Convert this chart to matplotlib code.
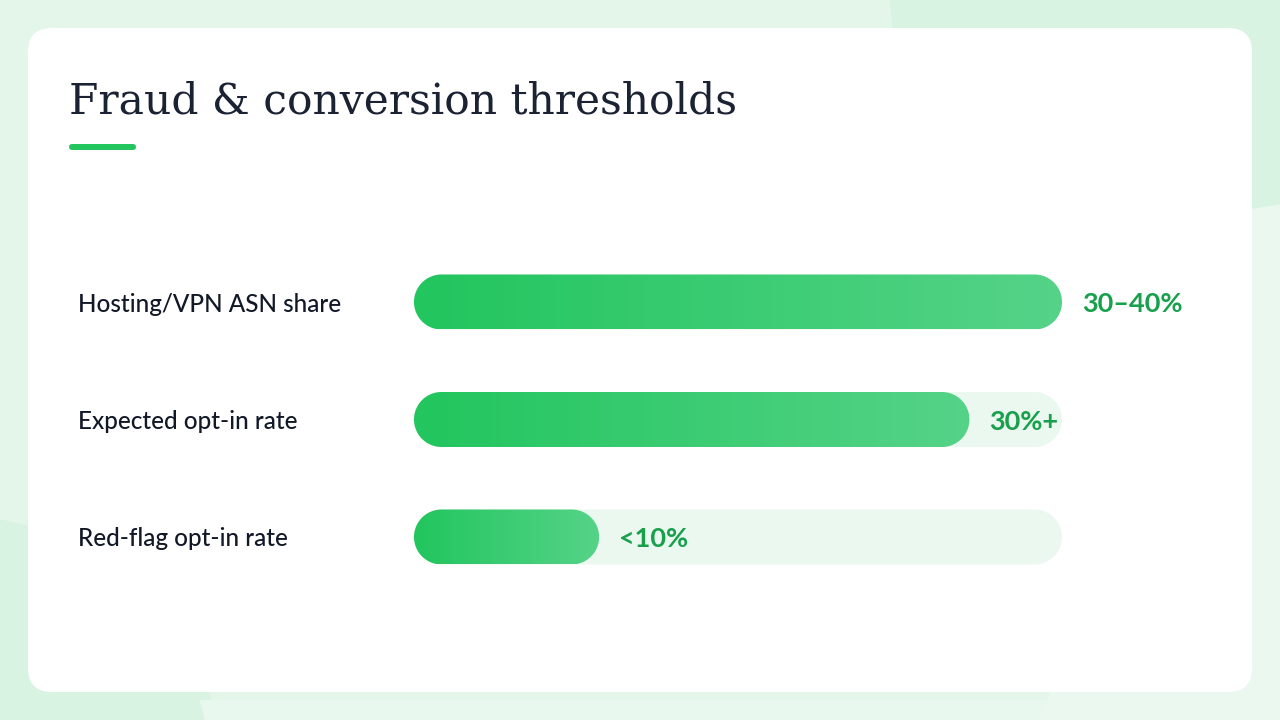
import matplotlib
matplotlib.use("Agg")
import matplotlib.pyplot as plt
import numpy as np
from matplotlib.patches import FancyBboxPatch, Polygon, PathPatch
from matplotlib.path import Path
from matplotlib.colors import LinearSegmentedColormap
from matplotlib.transforms import IdentityTransform

# ---- data ----
categories = ["Hosting/VPN ASN share", "Expected opt-in rate", "Red-flag opt-in rate"]
values = [35, 30, 10]          # bar length (percent, midpoint of stated range)
value_labels = ["30\u201340%", "30%+", "<10%"]
scale_max = 35
title = "Fraud & conversion thresholds"

W, H = 1280, 720
fig = plt.figure(figsize=(W / 100, H / 100), dpi=100)

# background axes in pixel coordinates
bg = fig.add_axes([0, 0, 1, 1])
bg.set_xlim(0, W)
bg.set_ylim(H, 0)
bg.axis("off")
bg.add_patch(plt.Rectangle((0, 0), W, H, color="#e4f6ea", zorder=0))
bg.add_patch(Polygon([[890, 0], [W, 0], [W, 215], [910, 215]], closed=True,
                     color="#d9f3e2", zorder=0.5))
bg.add_patch(Polygon([[W - 30, 210], [W, 205], [W, H], [1040, H]], closed=True,
                     color="#ebf8ef", zorder=0.6))
bg.add_patch(Polygon([[0, 520], [180, 560], [215, H], [0, H]], closed=True,
                     color="#d9f3e2", zorder=0.5))
bg.add_patch(Polygon([[200, 700], [W, 700], [W, H], [205, H]], closed=True,
                     color="#e9f8ee", zorder=0.55))
# card
bg.add_patch(FancyBboxPatch((28, 28), 1224, 664,
                            boxstyle="round,pad=0,rounding_size=24",
                            facecolor="white", edgecolor="none", zorder=1))
# title
bg.text(69, 113, title, fontsize=30.5, family="DejaVu Serif", color="#1a2233",
        va="baseline", ha="left", zorder=3)
bg.add_patch(FancyBboxPatch((69, 144), 67, 6,
                            boxstyle="round,pad=0,rounding_size=3",
                            facecolor="#22c55e", edgecolor="none", zorder=3))

# ---- bar axes ----
track_left, track_w = 414, 648
centers_top, spacing = 302, 117.5
y_top = centers_top - spacing / 2
ax_h = spacing * len(categories)
ax = fig.add_axes([track_left / W, 1 - (y_top + ax_h) / H, track_w / W, ax_h / H])
ax.set_xlim(0, scale_max)
ax.set_ylim(len(categories) - 0.5, -0.5)
ax.axis("off")
ax.patch.set_alpha(0)

bar_px = 55
bh = bar_px / spacing

cmap = LinearSegmentedColormap.from_list("g", ["#22c55e", "#55d388"])
grad = np.linspace(0, 1, 256).reshape(1, -1)


def pill(x0, x1, yc, **kw):
    """Pill-shaped bar with true semicircular ends, placed via the axes' data transform."""
    (px0, py0), (px1, py1) = ax.transData.transform([(x0, yc - bh / 2), (x1, yc + bh / 2)])
    left, right = min(px0, px1), max(px0, px1)
    bottom, top = min(py0, py1), max(py0, py1)
    r = (top - bottom) / 2
    cy = (top + bottom) / 2
    t_r = np.linspace(-np.pi / 2, np.pi / 2, 60)
    t_l = np.linspace(np.pi / 2, 3 * np.pi / 2, 60)
    xs = np.concatenate([right - r + r * np.cos(t_r), left + r + r * np.cos(t_l)])
    ys = np.concatenate([cy + r * np.sin(t_r), cy + r * np.sin(t_l)])
    verts = np.column_stack([xs, ys])
    verts = np.vstack([verts, verts[:1]])
    codes = [Path.MOVETO] + [Path.LINETO] * (len(verts) - 2) + [Path.CLOSEPOLY]
    p = PathPatch(Path(verts, codes), transform=IdentityTransform(),
                  edgecolor="none", **kw)
    ax.add_artist(p)
    return p


for i, (cat, v, lab) in enumerate(zip(categories, values, value_labels)):
    pill(0, scale_max, i, facecolor="#ebf8ef", zorder=1)
    bar = pill(0, v, i, facecolor="none", zorder=2)
    im = ax.imshow(grad, extent=(0, v, i + bh / 2, i - bh / 2), cmap=cmap,
                   aspect="auto", zorder=2, interpolation="bilinear")
    im.set_clip_path(bar)
    ax.annotate(lab, xy=(v, i), xytext=(20, 0), textcoords="offset pixels",
                fontsize=19.5, fontweight="bold", family="Lato",
                color="#18a04c", va="center_baseline", ha="left", zorder=3)
    ax.annotate(cat, xy=(0, i), xytext=(-336, 0), textcoords="offset pixels",
                fontsize=17.5, fontweight="medium", family="Lato", color="#111827",
                va="center_baseline", ha="left", zorder=3, annotation_clip=False)

ax.set_xlim(0, scale_max)
ax.set_ylim(len(categories) - 0.5, -0.5)

fig.savefig("out.png", dpi=100)
